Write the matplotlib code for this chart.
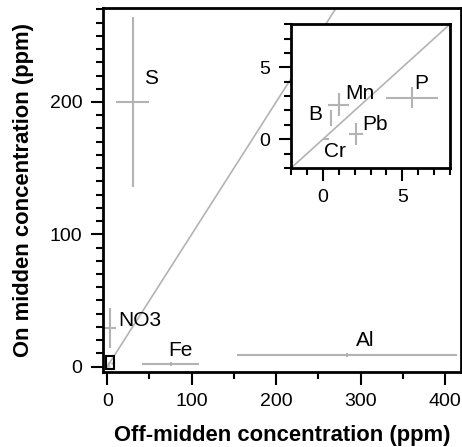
import matplotlib.pyplot as plt
from matplotlib.patches import Rectangle
from matplotlib.ticker import MultipleLocator

plt.rcParams['font.family'] = ['Liberation Sans', 'DejaVu Sans']

# main panel values (ppm): off-midden (x) vs on-midden (y)
main_names = ['S', 'NO3', 'Fe', 'Al']
main_x = [30, 3.5, 75, 284]
main_xerr = [20, 7, 34, 130]
main_y = [200, 29, 2, 9]
main_yerr = [64, 15, 1.5, 1.5]
main_lab_x = [43, 13, 72, 295]
main_lab_y = [218, 35, 12, 20]

# inset values (ppm)
ins_names = ['B', 'Mn', 'Pb', 'Cr', 'P']
ins_x = [0.5, 1.0, 2.1, 0.2, 5.6]
ins_xerr = [0.05, 0.65, 0.45, 0.2, 1.65]
ins_y = [1.45, 2.4, 0.35, 0.0, 2.9]
ins_yerr = [0.55, 0.8, 0.75, 0.05, 0.7]
ins_lab_x = [-0.9, 1.4, 2.5, 0.05, 5.75]
ins_lab_y = [1.75, 3.2, 1.05, -0.85, 3.9]

grey = '#b3b3b3'

fig = plt.figure(figsize=(4.62, 4.47), dpi=100)
ax = fig.add_axes([0.223, 0.168, 0.775, 0.814])


def style_axes(a, fs):
    for s in a.spines.values():
        s.set_linewidth(2)
    a.tick_params(which='both', direction='out', width=1.5, labelsize=fs,
                  top=False, right=False, pad=6)
    a.tick_params(which='major', length=9)
    a.tick_params(which='minor', length=5)


ax.plot([0, 300], [0, 300], color=grey, lw=1.2, zorder=1)
ax.errorbar(main_x, main_y, xerr=main_xerr, yerr=main_yerr, fmt='none',
            ecolor=grey, elinewidth=1.5, capsize=0)
ax.errorbar(ins_x, ins_y, xerr=ins_xerr, yerr=ins_yerr, fmt='none',
            ecolor=grey, elinewidth=1.0, capsize=0)
for n, lx, ly in zip(main_names, main_lab_x, main_lab_y):
    ax.text(lx, ly, n, fontsize=15, ha='left', va='center')
ax.add_patch(Rectangle((-2, -2), 10, 10, fill=False, ec='black', lw=1.5, zorder=3))

ax.set_xlim(-5, 419)
ax.set_ylim(-4, 271)
ax.xaxis.set_major_locator(MultipleLocator(100))
ax.xaxis.set_minor_locator(MultipleLocator(50))
ax.yaxis.set_major_locator(MultipleLocator(100))
ax.yaxis.set_minor_locator(MultipleLocator(10))
style_axes(ax, 14)
ax.set_xlabel('Off-midden concentration (ppm)', fontsize=15.8, fontweight='bold', labelpad=11)
ax.set_ylabel('On midden concentration (ppm)', fontsize=15.8, fontweight='bold', labelpad=11)

# inset zoom on the small box
ins = fig.add_axes([0.630, 0.624, 0.344, 0.322])
ins.plot([-2, 8], [-2, 8], color=grey, lw=1.2, zorder=1)
ins.errorbar(ins_x, ins_y, xerr=ins_xerr, yerr=ins_yerr, fmt='none',
             ecolor=grey, elinewidth=1.5, capsize=0)
for n, lx, ly in zip(ins_names, ins_lab_x, ins_lab_y):
    ins.text(lx, ly, n, fontsize=15, ha='left', va='center')
ins.set_xlim(-2, 8)
ins.set_ylim(-2, 8)
ins.xaxis.set_major_locator(MultipleLocator(5))
ins.xaxis.set_minor_locator(MultipleLocator(1))
ins.yaxis.set_major_locator(MultipleLocator(5))
ins.yaxis.set_minor_locator(MultipleLocator(1))
style_axes(ins, 14)

fig.savefig('out.png', dpi=100)
